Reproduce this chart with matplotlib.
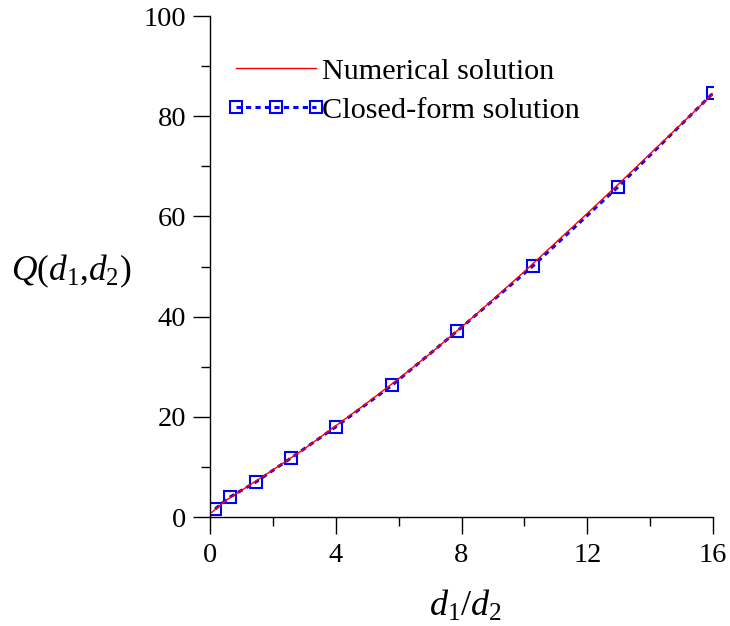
import matplotlib
matplotlib.use("Agg")
import matplotlib.pyplot as plt
from matplotlib.ticker import MultipleLocator

plt.rcParams['font.family'] = ['Liberation Serif', 'DejaVu Serif']
plt.rcParams['mathtext.fontset'] = 'custom'
plt.rcParams['mathtext.rm'] = 'Liberation Serif'
plt.rcParams['mathtext.it'] = 'Liberation Serif:italic'

# Numerical solution (red line)
num_x = [0.05, 0.5, 1, 2, 3, 4, 5, 6, 7, 8, 9, 10, 11, 12, 13, 14, 15, 16]
num_y = [0.9, 3.3, 5.3, 9.4, 13.6, 18.2, 22.8, 27.6, 32.6, 37.9, 43.4, 49.0, 54.8, 60.6, 66.5, 72.5, 78.5, 84.5]

# Closed-form solution (blue dashed with squares)
cf_x = [0.16, 0.64, 1.46, 2.58, 4.0, 5.79, 7.86, 10.27, 12.98, 16.0]
cf_y = [1.6, 4.0, 7.0, 11.8, 18.0, 26.3, 37.1, 50.1, 65.9, 84.6]

fig = plt.figure(figsize=(7.3, 6.26), dpi=100)
ax = fig.add_axes([0.2877, 0.1741, 0.689, 0.8003])

ax.plot(num_x, num_y, color='red', lw=1.0, label='Numerical solution', zorder=3)
ax.plot(cf_x, cf_y, color='blue', lw=2.2, ls=(0, (1.7, 1.4)), marker='s',
        ms=8.5, mfc='none', mec='blue', mew=1.5, label='Closed-form solution', zorder=2)

ax.set_xlim(0, 16)
ax.set_ylim(0, 100)
ax.xaxis.set_major_locator(MultipleLocator(4))
ax.xaxis.set_minor_locator(MultipleLocator(2))
ax.yaxis.set_major_locator(MultipleLocator(20))
ax.yaxis.set_minor_locator(MultipleLocator(10))

for s in ['top', 'right']:
    ax.spines[s].set_visible(False)
for s in ['left', 'bottom']:
    ax.spines[s].set_linewidth(1.0)

ax.tick_params(which='major', direction='out', length=12, width=1.0, labelsize=20.5, pad=5)
ax.tick_params(axis='x', which='major', pad=7)
ax.tick_params(which='minor', direction='out', length=6.5, width=1.0)

ax.set_xlabel(r'$d_1/d_2$', fontsize=26)
ax.xaxis.set_label_coords(0.508, -0.143)
ax.set_ylabel(r'$Q(d_1{,}d_2)$', fontsize=25.5, rotation=0, va='center', ha='center')
ax.yaxis.set_label_coords(-0.276, 0.49)

leg = ax.legend(loc='upper left', bbox_to_anchor=(0.009, 0.941), frameon=False,
                fontsize=21.8, numpoints=3, handlelength=3.26, handletextpad=-0.1,
                labelspacing=0.38, borderaxespad=0)

fig.savefig('out.png', dpi=100)
